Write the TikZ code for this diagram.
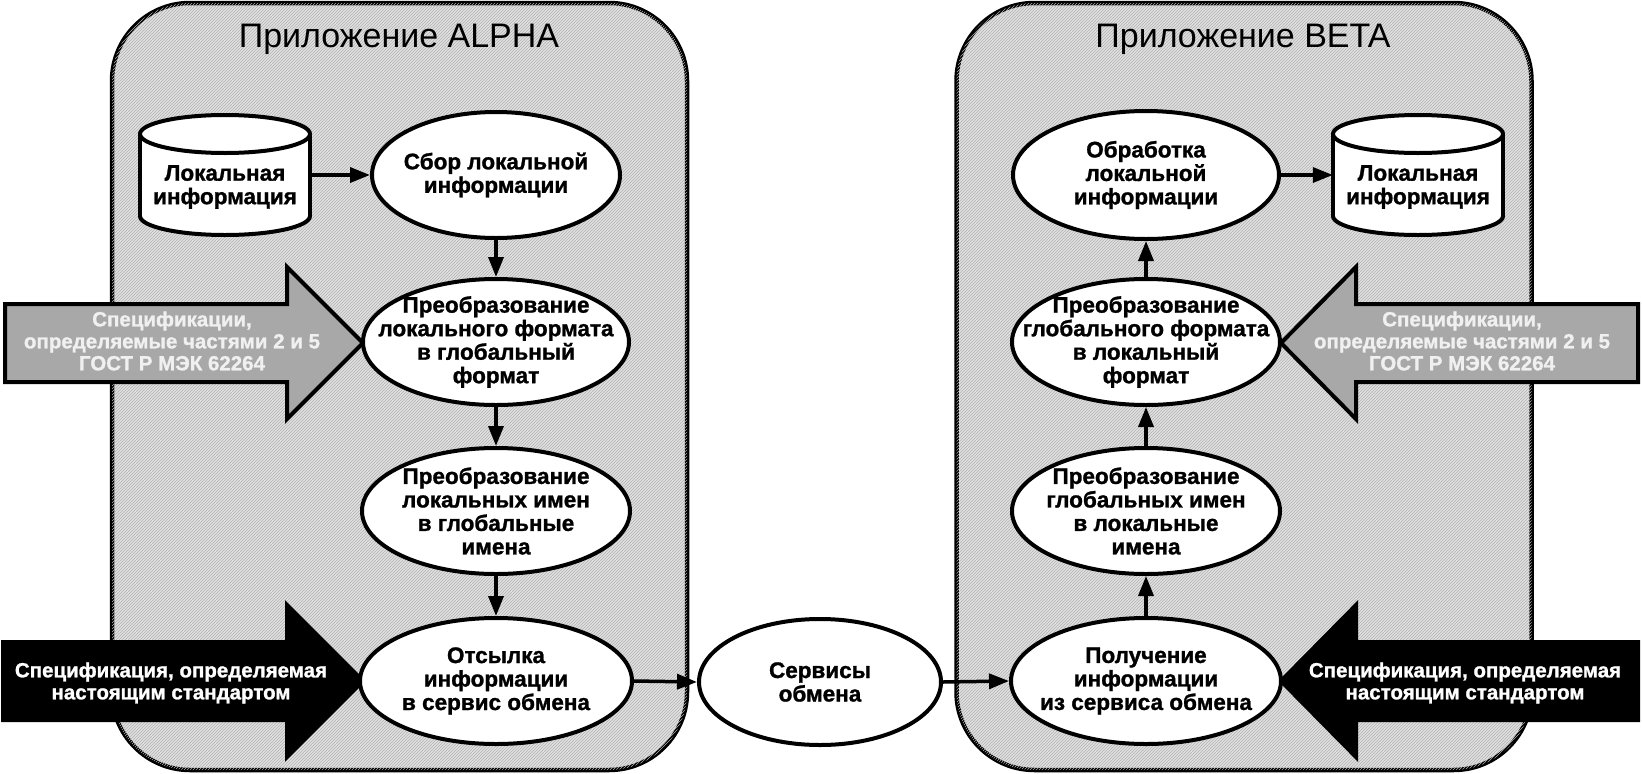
\documentclass[tikz,border=0pt]{standalone}
\usepackage{fontspec}
\setmainfont{Liberation Sans}[BoldFeatures={FakeBold=1.2}]
\usetikzlibrary{shapes.geometric,arrows.meta,patterns}
\definecolor{panelgray}{gray}{0.88}
\definecolor{specgray}{gray}{0.66}
\begin{document}
\begin{tikzpicture}[x=1pt,y=-1pt,
  panel/.style={draw, line width=4.5pt, rounded corners=78pt, fill=panelgray, minimum width=575pt, minimum height=767pt, inner sep=0pt,
    postaction={pattern=north east lines, pattern color=black!30}},
  proc/.style={ellipse, draw, line width=4pt, fill=white, inner sep=0pt},
  txt/.style={align=center, font=\fontsize{22.5}{23.5}\selectfont\bfseries, inner sep=0pt},
  ttl/.style={font=\fontsize{34}{36}\selectfont, inner sep=0pt},
  conn/.style={line width=3.5pt, -{Triangle[length=20pt,width=15pt]}},
  bigarrow/.style={line width=4pt, line join=miter},
  spec/.style={align=center, font=\fontsize{20.5}{22}\selectfont\bfseries, text=white, inner sep=0pt},
  specg/.style={spec, text=black!6},
  cylbody/.style={minimum width=170pt, minimum height=120pt, inner sep=0pt},
]
\useasboundingbox (0,0) rectangle (1642,774);
\fill[white] (0,0) rectangle (1642,774);

% panels
\node[panel] (pA) at (399.5,386.5) {};
\node[panel] (pB) at (1244,386.5) {};
\node[ttl, anchor=base] (tA) at (399,47) {Приложение ALPHA};
\node[ttl, anchor=base] (tB) at (1243,47) {Приложение BETA};

% big arrows
\draw[bigarrow, fill=specgray] (5,304) -- (287,304) -- (287,267) -- (363,343) -- (287,419) -- (287,382) -- (5,382) -- cycle;
\draw[bigarrow, fill=specgray] (1638,304) -- (1356,304) -- (1356,267) -- (1281,343) -- (1356,419) -- (1356,382) -- (1638,382) -- cycle;
\draw[bigarrow, fill=black] (3,642) -- (287,642) -- (287,605) -- (363,681) -- (287,757) -- (287,720) -- (3,720) -- cycle;
\draw[bigarrow, fill=black] (1638,642) -- (1356,642) -- (1356,605) -- (1281,681) -- (1356,757) -- (1356,720) -- (1638,720) -- cycle;
\node[specg] (sA) at (172,341) {Спецификации,\\определяемые частями 2 и 5\\ГОСТ Р МЭК 62264};
\node[specg] (sB) at (1462,341) {Спецификации,\\определяемые частями 2 и 5\\ГОСТ Р МЭК 62264};
\node[spec] (bA) at (171,683) {Спецификация, определяемая\\настоящим стандартом};
\node[spec] (bB) at (1465,683) {Спецификация, определяемая\\настоящим стандартом};

% cylinders
\foreach \cx in {225,1418}{
  \filldraw[line width=4pt, fill=white] (\cx,216) ellipse [x radius=85, y radius=19];
  \fill[white] (\cx-85,134) rectangle (\cx+85,216);
  \draw[line width=4pt] (\cx-85,134) -- (\cx-85,216) (\cx+85,134) -- (\cx+85,216);
  \filldraw[line width=4pt, fill=white] (\cx,134) ellipse [x radius=85, y radius=19];
}
\node[cylbody] (cylA) at (225,175) {};
\node[cylbody] (cylB) at (1418,175) {};
\node[txt] (cAt) at (225,187) {Локальная\\информация};
\node[txt] (cBt) at (1418,187) {Локальная\\информация};

% left column
\node[proc, minimum width=248pt, minimum height=126pt] (e1) at (496,175) {};
\node[proc, minimum width=266pt, minimum height=126pt] (e2) at (496,342) {};
\node[proc, minimum width=268pt, minimum height=126pt] (e3) at (496,511) {};
\node[proc, minimum width=272pt, minimum height=126pt] (e4) at (496,681) {};
\node[txt] at (e1) {Сбор локальной\\информации};
\node[txt] at (e2) {Преобразование\\локального формата\\в глобальный\\формат};
\node[txt] at (e3) {Преобразование\\локальных имен\\в глобальные\\имена};
\node[txt] at (e4) {Отсылка\\информации\\в сервис обмена};

% exchange
\node[proc, minimum width=242pt, minimum height=126pt] (ex) at (820,682) {};
\node[txt] at (ex) {Сервисы\\обмена};

% right column
\node[proc, minimum width=266pt, minimum height=128pt] (r1) at (1146,175) {};
\node[proc, minimum width=268pt, minimum height=126pt] (r2) at (1146,342) {};
\node[proc, minimum width=268pt, minimum height=126pt] (r3) at (1146,511) {};
\node[proc, minimum width=270pt, minimum height=126pt] (r4) at (1146,681) {};
\node[txt] at (r1) {Обработка\\локальной\\информации};
\node[txt] at (r2) {Преобразование\\глобального формата\\в локальный\\формат};
\node[txt] at (r3) {Преобразование\\глобальных имен\\в локальные\\имена};
\node[txt] at (r4) {Получение\\информации\\из сервиса обмена};

% connectors
\draw[conn] (cylA.east) -- (e1.west);
\draw[conn] (e1.south) -- (e2.north);
\draw[conn] (e2.south) -- (e3.north);
\draw[conn] (e3.south) -- (e4.north);
\draw[conn] (e4.east) -- (ex.west);
\draw[conn] (ex.east) -- (r4.west);
\draw[conn] (r4.north) -- (r3.south);
\draw[conn] (r3.north) -- (r2.south);
\draw[conn] (r2.north) -- (r1.south);
\draw[conn] (r1.east) -- (cylB.west);
\end{tikzpicture}
\end{document}
